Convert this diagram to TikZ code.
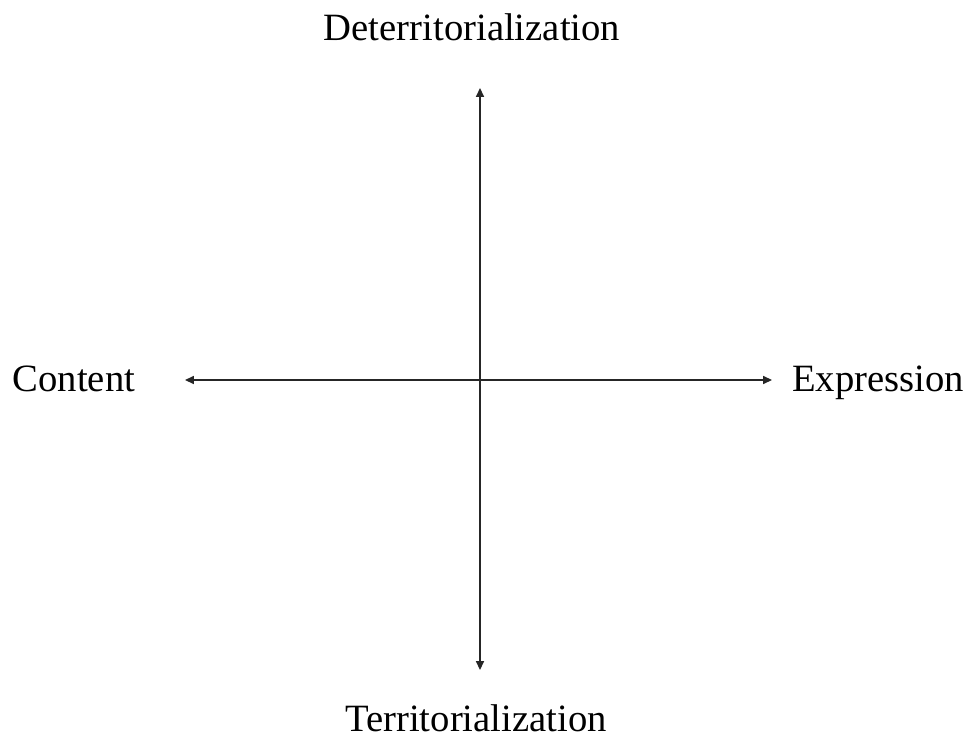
\documentclass[tikz,border=0pt]{standalone}
\usepackage{fontspec}
\setmainfont{Liberation Serif}
\usetikzlibrary{arrows.meta}

\begin{document}
\begin{tikzpicture}[x=0.02cm, y=-0.02cm]
% Styles ---
\tikzstyle{lab} = [anchor = base, inner sep = 0pt, font = \fontsize{22}{26}\selectfont] % Axis labels
\tikzstyle{axis} = [{Triangle[length=5pt, width=4.5pt]}-{Triangle[length=5pt, width=4.5pt]}, line width = 0.8pt, draw = black!85] % Axes
\useasboundingbox (0,0) rectangle (968,737);
% Nodes
\coordinate (top) at (480,88);
\coordinate (bot) at (480,670);
\coordinate (left) at (185,380);
\coordinate (right) at (772,380);
\node at (472,40) [lab] (det) {Deterritorialization};
\node at (476,731) [lab] (ter) {Territorialization};
\node at (74,391) [lab] (con) {Content};
\node at (878,391) [lab] (exp) {Expression};
% Axes
\draw [axis] (bot) -- (top);
\draw [axis] (left) -- (right);
\end{tikzpicture}
\end{document}
